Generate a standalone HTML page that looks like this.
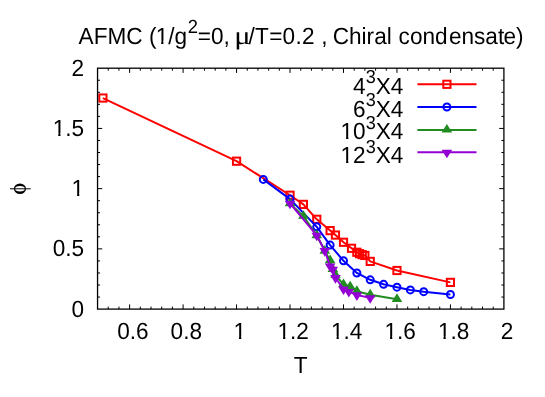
<!DOCTYPE html>
<html><head><meta charset="utf-8"><title>AFMC chiral condensate</title>
<style>html,body{margin:0;padding:0;background:#fff}svg{display:block;will-change:transform}text{text-rendering:geometricPrecision;font-family:"Liberation Sans",sans-serif;fill:#000}</style></head><body>
<svg width="545" height="397" viewBox="0 0 545 397">
<rect width="545" height="397" fill="#fff"/>
<path d="M108.24 309.10V306.60M108.24 68.20V70.70M118.94 309.10V306.60M118.94 68.20V70.70M129.63 309.10V304.40M129.63 68.20V72.90M140.32 309.10V306.60M140.32 68.20V70.70M151.02 309.10V306.60M151.02 68.20V70.70M161.71 309.10V306.60M161.71 68.20V70.70M172.40 309.10V306.60M172.40 68.20V70.70M183.10 309.10V304.40M183.10 68.20V72.90M193.79 309.10V306.60M193.79 68.20V70.70M204.48 309.10V306.60M204.48 68.20V70.70M215.18 309.10V306.60M215.18 68.20V70.70M225.87 309.10V306.60M225.87 68.20V70.70M236.56 309.10V304.40M236.56 68.20V72.90M247.26 309.10V306.60M247.26 68.20V70.70M257.95 309.10V306.60M257.95 68.20V70.70M268.64 309.10V306.60M268.64 68.20V70.70M279.34 309.10V306.60M279.34 68.20V70.70M290.03 309.10V304.40M290.03 68.20V72.90M300.73 309.10V306.60M300.73 68.20V70.70M311.42 309.10V306.60M311.42 68.20V70.70M322.11 309.10V306.60M322.11 68.20V70.70M332.81 309.10V306.60M332.81 68.20V70.70M343.50 309.10V304.40M343.50 68.20V72.90M354.19 309.10V306.60M354.19 68.20V70.70M364.89 309.10V306.60M364.89 68.20V70.70M375.58 309.10V306.60M375.58 68.20V70.70M386.27 309.10V306.60M386.27 68.20V70.70M396.97 309.10V304.40M396.97 68.20V72.90M407.66 309.10V306.60M407.66 68.20V70.70M418.35 309.10V306.60M418.35 68.20V70.70M429.05 309.10V306.60M429.05 68.20V70.70M439.74 309.10V306.60M439.74 68.20V70.70M450.43 309.10V304.40M450.43 68.20V72.90M461.13 309.10V306.60M461.13 68.20V70.70M471.82 309.10V306.60M471.82 68.20V70.70M482.51 309.10V306.60M482.51 68.20V70.70M493.21 309.10V306.60M493.21 68.20V70.70M97.55 297.06H100.05M503.90 297.06H501.40M97.55 285.01H100.05M503.90 285.01H501.40M97.55 272.97H100.05M503.90 272.97H501.40M97.55 260.92H100.05M503.90 260.92H501.40M97.55 248.88H102.25M503.90 248.88H499.20M97.55 236.83H100.05M503.90 236.83H501.40M97.55 224.78H100.05M503.90 224.78H501.40M97.55 212.74H100.05M503.90 212.74H501.40M97.55 200.69H100.05M503.90 200.69H501.40M97.55 188.65H102.25M503.90 188.65H499.20M97.55 176.60H100.05M503.90 176.60H501.40M97.55 164.56H100.05M503.90 164.56H501.40M97.55 152.51H100.05M503.90 152.51H501.40M97.55 140.47H100.05M503.90 140.47H501.40M97.55 128.43H102.25M503.90 128.43H499.20M97.55 116.38H100.05M503.90 116.38H501.40M97.55 104.33H100.05M503.90 104.33H501.40M97.55 92.29H100.05M503.90 92.29H501.40M97.55 80.24H100.05M503.90 80.24H501.40" stroke="#000" stroke-width="1" fill="none"/>
<polyline fill="none" stroke="#ff0000" stroke-width="2.0" stroke-linejoin="round" points="102.90,98.03 236.56,161.19 290.03,195.24 303.40,204.38 316.77,219.30 330.13,230.61 335.48,235.06 343.50,242.27 351.52,248.29 356.87,252.26 359.54,253.70 362.21,254.67 364.89,255.45 370.23,261.40 396.97,270.50 450.43,282.39"/>
<rect x="99.30" y="94.43" width="7.20" height="7.20" fill="none" stroke="#ff0000" stroke-width="2"/>
<rect x="232.96" y="157.59" width="7.20" height="7.20" fill="none" stroke="#ff0000" stroke-width="2"/>
<rect x="286.43" y="191.64" width="7.20" height="7.20" fill="none" stroke="#ff0000" stroke-width="2"/>
<rect x="299.80" y="200.78" width="7.20" height="7.20" fill="none" stroke="#ff0000" stroke-width="2"/>
<rect x="313.17" y="215.70" width="7.20" height="7.20" fill="none" stroke="#ff0000" stroke-width="2"/>
<rect x="326.53" y="227.01" width="7.20" height="7.20" fill="none" stroke="#ff0000" stroke-width="2"/>
<rect x="331.88" y="231.46" width="7.20" height="7.20" fill="none" stroke="#ff0000" stroke-width="2"/>
<rect x="339.90" y="238.67" width="7.20" height="7.20" fill="none" stroke="#ff0000" stroke-width="2"/>
<rect x="347.92" y="244.69" width="7.20" height="7.20" fill="none" stroke="#ff0000" stroke-width="2"/>
<rect x="353.27" y="248.66" width="7.20" height="7.20" fill="none" stroke="#ff0000" stroke-width="2"/>
<rect x="355.94" y="250.10" width="7.20" height="7.20" fill="none" stroke="#ff0000" stroke-width="2"/>
<rect x="358.61" y="251.07" width="7.20" height="7.20" fill="none" stroke="#ff0000" stroke-width="2"/>
<rect x="361.29" y="251.85" width="7.20" height="7.20" fill="none" stroke="#ff0000" stroke-width="2"/>
<rect x="366.63" y="257.80" width="7.20" height="7.20" fill="none" stroke="#ff0000" stroke-width="2"/>
<rect x="393.37" y="266.90" width="7.20" height="7.20" fill="none" stroke="#ff0000" stroke-width="2"/>
<rect x="446.83" y="278.79" width="7.20" height="7.20" fill="none" stroke="#ff0000" stroke-width="2"/>
<polyline fill="none" stroke="#0000ff" stroke-width="2.0" stroke-linejoin="round" points="263.30,179.39 290.03,199.09 316.77,226.82 330.13,245.10 343.50,260.80 356.87,272.95 370.23,279.81 383.60,284.32 396.97,287.19 410.33,289.91 423.70,291.65 450.43,294.51"/>
<circle cx="263.30" cy="179.39" r="3.50" fill="none" stroke="#0000ff" stroke-width="2"/>
<circle cx="290.03" cy="199.09" r="3.50" fill="none" stroke="#0000ff" stroke-width="2"/>
<circle cx="316.77" cy="226.82" r="3.50" fill="none" stroke="#0000ff" stroke-width="2"/>
<circle cx="330.13" cy="245.10" r="3.50" fill="none" stroke="#0000ff" stroke-width="2"/>
<circle cx="343.50" cy="260.80" r="3.50" fill="none" stroke="#0000ff" stroke-width="2"/>
<circle cx="356.87" cy="272.95" r="3.50" fill="none" stroke="#0000ff" stroke-width="2"/>
<circle cx="370.23" cy="279.81" r="3.50" fill="none" stroke="#0000ff" stroke-width="2"/>
<circle cx="383.60" cy="284.32" r="3.50" fill="none" stroke="#0000ff" stroke-width="2"/>
<circle cx="396.97" cy="287.19" r="3.50" fill="none" stroke="#0000ff" stroke-width="2"/>
<circle cx="410.33" cy="289.91" r="3.50" fill="none" stroke="#0000ff" stroke-width="2"/>
<circle cx="423.70" cy="291.65" r="3.50" fill="none" stroke="#0000ff" stroke-width="2"/>
<circle cx="450.43" cy="294.51" r="3.50" fill="none" stroke="#0000ff" stroke-width="2"/>
<polyline fill="none" stroke="#228b22" stroke-width="2.0" stroke-linejoin="round" points="290.03,203.72 303.40,216.11 316.77,235.54 324.79,251.06 330.13,260.50 332.81,269.34 335.48,275.18 343.50,284.32 350.18,286.60 356.87,291.18 370.23,294.79 396.97,299.24"/>
<polygon points="290.03,197.78 284.73,206.37 295.33,206.37" fill="#228b22"/>
<polygon points="303.40,210.17 298.10,218.76 308.70,218.76" fill="#228b22"/>
<polygon points="316.77,229.60 311.47,238.19 322.07,238.19" fill="#228b22"/>
<polygon points="324.79,245.12 319.49,253.71 330.09,253.71" fill="#228b22"/>
<polygon points="330.13,254.56 324.83,263.15 335.43,263.15" fill="#228b22"/>
<polygon points="332.81,263.41 327.51,271.99 338.11,271.99" fill="#228b22"/>
<polygon points="335.48,269.24 330.18,277.83 340.78,277.83" fill="#228b22"/>
<polygon points="343.50,278.38 338.20,286.97 348.80,286.97" fill="#228b22"/>
<polygon points="350.18,280.67 344.88,289.25 355.48,289.25" fill="#228b22"/>
<polygon points="356.87,285.24 351.57,293.83 362.17,293.83" fill="#228b22"/>
<polygon points="370.23,288.85 364.93,297.44 375.53,297.44" fill="#228b22"/>
<polygon points="396.97,293.30 391.67,301.89 402.27,301.89" fill="#228b22"/>
<polyline fill="none" stroke="#9400d3" stroke-width="2.0" stroke-linejoin="round" points="290.03,203.36 316.77,235.30 324.79,250.76 330.13,266.03 332.81,269.28 335.48,277.76 343.50,289.13 348.85,291.66 356.87,294.95 370.23,297.86"/>
<polygon points="290.03,209.29 284.73,200.71 295.33,200.71" fill="#9400d3"/>
<polygon points="316.77,241.23 311.47,232.65 322.07,232.65" fill="#9400d3"/>
<polygon points="324.79,256.69 319.49,248.11 330.09,248.11" fill="#9400d3"/>
<polygon points="330.13,271.97 324.83,263.38 335.43,263.38" fill="#9400d3"/>
<polygon points="332.81,275.22 327.51,266.63 338.11,266.63" fill="#9400d3"/>
<polygon points="335.48,283.70 330.18,275.11 340.78,275.11" fill="#9400d3"/>
<polygon points="343.50,295.07 338.20,286.48 348.80,286.48" fill="#9400d3"/>
<polygon points="348.85,297.59 343.55,289.01 354.15,289.01" fill="#9400d3"/>
<polygon points="356.87,300.89 351.57,292.30 362.17,292.30" fill="#9400d3"/>
<polygon points="370.23,303.80 364.93,295.21 375.53,295.21" fill="#9400d3"/>
<line x1="417.4" x2="476.5" y1="84.30" y2="84.30" stroke="#ff0000" stroke-width="2.0"/>
<rect x="443.30" y="80.70" width="7.20" height="7.20" fill="none" stroke="#ff0000" stroke-width="2"/>
<text transform="translate(403.40,93.60) scale(1.000,1.035)" font-size="22.60" text-anchor="end">4<tspan dy="-10" font-size="18.1">3</tspan><tspan dy="10" font-size="22.60">X4</tspan></text>
<line x1="417.4" x2="476.5" y1="106.95" y2="106.95" stroke="#0000ff" stroke-width="2.0"/>
<circle cx="446.90" cy="106.95" r="3.50" fill="none" stroke="#0000ff" stroke-width="2"/>
<text transform="translate(403.40,116.70) scale(1.000,1.035)" font-size="22.60" text-anchor="end">6<tspan dy="-10" font-size="18.1">3</tspan><tspan dy="10" font-size="22.60">X4</tspan></text>
<line x1="417.4" x2="476.5" y1="129.90" y2="129.90" stroke="#228b22" stroke-width="2.0"/>
<polygon points="446.90,123.96 441.60,132.55 452.20,132.55" fill="#228b22"/>
<text transform="translate(403.40,139.40) scale(1.000,1.035)" font-size="22.60" text-anchor="end">10<tspan dy="-10" font-size="18.1">3</tspan><tspan dy="10" font-size="22.60">X4</tspan></text>
<rect x="341.57" y="136.55" width="4.54" height="3.65" fill="#fff"/><rect x="348.35" y="136.55" width="4.37" height="3.65" fill="#fff"/>
<line x1="417.4" x2="476.5" y1="152.35" y2="152.35" stroke="#9400d3" stroke-width="2.0"/>
<polygon points="446.90,158.29 441.60,149.70 452.20,149.70" fill="#9400d3"/>
<text transform="translate(403.40,163.00) scale(1.000,1.035)" font-size="22.60" text-anchor="end">12<tspan dy="-10" font-size="18.1">3</tspan><tspan dy="10" font-size="22.60">X4</tspan></text>
<rect x="341.57" y="160.15" width="4.54" height="3.65" fill="#fff"/><rect x="348.35" y="160.15" width="4.37" height="3.65" fill="#fff"/>
<rect x="97.55" y="68.20" width="406.35" height="240.90" fill="none" stroke="#000" stroke-width="1.3"/>
<text transform="translate(84.10,75.70) scale(1.000,1.035)" font-size="22.60" text-anchor="end">2</text>
<text transform="translate(84.10,135.93) scale(1.000,1.035)" font-size="22.60" text-anchor="end">1.5</text>
<rect x="53.70" y="133.08" width="4.54" height="3.65" fill="#fff"/><rect x="60.48" y="133.08" width="4.37" height="3.65" fill="#fff"/>
<text transform="translate(84.10,196.15) scale(1.000,1.035)" font-size="22.60" text-anchor="end">1</text>
<rect x="72.55" y="193.30" width="4.54" height="3.65" fill="#fff"/><rect x="79.33" y="193.30" width="4.37" height="3.65" fill="#fff"/>
<text transform="translate(84.10,256.38) scale(1.000,1.035)" font-size="22.60" text-anchor="end">0.5</text>
<text transform="translate(84.10,316.60) scale(1.000,1.035)" font-size="22.60" text-anchor="end">0</text>
<text transform="translate(132.83,339.10) scale(1.000,1.035)" font-size="22.60" text-anchor="middle">0.6</text>
<text transform="translate(186.30,339.10) scale(1.000,1.035)" font-size="22.60" text-anchor="middle">0.8</text>
<text transform="translate(239.76,339.10) scale(1.000,1.035)" font-size="22.60" text-anchor="middle">1</text>
<rect x="234.50" y="336.25" width="4.54" height="3.65" fill="#fff"/><rect x="241.28" y="336.25" width="4.37" height="3.65" fill="#fff"/>
<text transform="translate(293.23,339.10) scale(1.000,1.035)" font-size="22.60" text-anchor="middle">1.2</text>
<rect x="278.54" y="336.25" width="4.54" height="3.65" fill="#fff"/><rect x="285.32" y="336.25" width="4.37" height="3.65" fill="#fff"/>
<text transform="translate(346.70,339.10) scale(1.000,1.035)" font-size="22.60" text-anchor="middle">1.4</text>
<rect x="332.01" y="336.25" width="4.54" height="3.65" fill="#fff"/><rect x="338.79" y="336.25" width="4.37" height="3.65" fill="#fff"/>
<text transform="translate(400.17,339.10) scale(1.000,1.035)" font-size="22.60" text-anchor="middle">1.6</text>
<rect x="385.48" y="336.25" width="4.54" height="3.65" fill="#fff"/><rect x="392.26" y="336.25" width="4.37" height="3.65" fill="#fff"/>
<text transform="translate(453.63,339.10) scale(1.000,1.035)" font-size="22.60" text-anchor="middle">1.8</text>
<rect x="438.95" y="336.25" width="4.54" height="3.65" fill="#fff"/><rect x="445.72" y="336.25" width="4.37" height="3.65" fill="#fff"/>
<text transform="translate(507.10,339.10) scale(1.000,1.035)" font-size="22.60" text-anchor="middle">2</text>
<text transform="translate(300.75,372.70) scale(1.000,1.035)" font-size="22.60" text-anchor="middle">T</text>
<text transform="translate(78.60,43.60) scale(1.000,1.035)" font-size="22.60" text-anchor="start">AFMC (</text>
<text transform="translate(155.63,43.60) scale(1.000,1.035)" font-size="22.60" text-anchor="start">1/g</text>
<rect x="156.65" y="40.75" width="4.54" height="3.65" fill="#fff"/><rect x="163.43" y="40.75" width="4.37" height="3.65" fill="#fff"/>
<text transform="translate(187.70,33.20) scale(1.000,1.035)" font-size="18.40" text-anchor="start">2</text>
<text transform="translate(197.70,43.60) scale(1.000,1.035)" font-size="22.60" text-anchor="start">=0,</text>
<text transform="translate(234.30,43.60) scale(1.220,1.035)" font-size="25.00" text-anchor="start" style="font-family:&quot;Liberation Serif&quot;,serif">μ</text>
<text transform="translate(248.60,43.60) scale(1.000,1.035)" font-size="22.60" text-anchor="start" letter-spacing="0.24">/T=0.2 ,</text>
<text transform="translate(332.70,43.60) scale(1.000,1.035)" font-size="22.60" text-anchor="start">Chiral</text>
<text transform="translate(398.60,43.60) scale(1.000,1.035)" font-size="22.60" text-anchor="start">cond</text>
<text transform="translate(448.91,43.60) scale(1.000,1.035)" font-size="22.60" text-anchor="start">ensat</text>
<text transform="translate(503.39,43.60) scale(1.000,1.035)" font-size="22.60" text-anchor="start">e)</text>
<g role="img" aria-label="φ">
<line x1="10" x2="30.7" y1="188.8" y2="188.8" stroke="#000" stroke-width="1"/>
<path fill-rule="evenodd" d="M13.9 188.7a6.05 5.2 0 1 0 12.1 0a6.05 5.2 0 1 0 -12.1 0zM15.1 188.7a4.85 2.7 0 1 0 9.7 0a4.85 2.7 0 1 0 -9.7 0z" fill="#000"/></g>
</svg></body></html>
